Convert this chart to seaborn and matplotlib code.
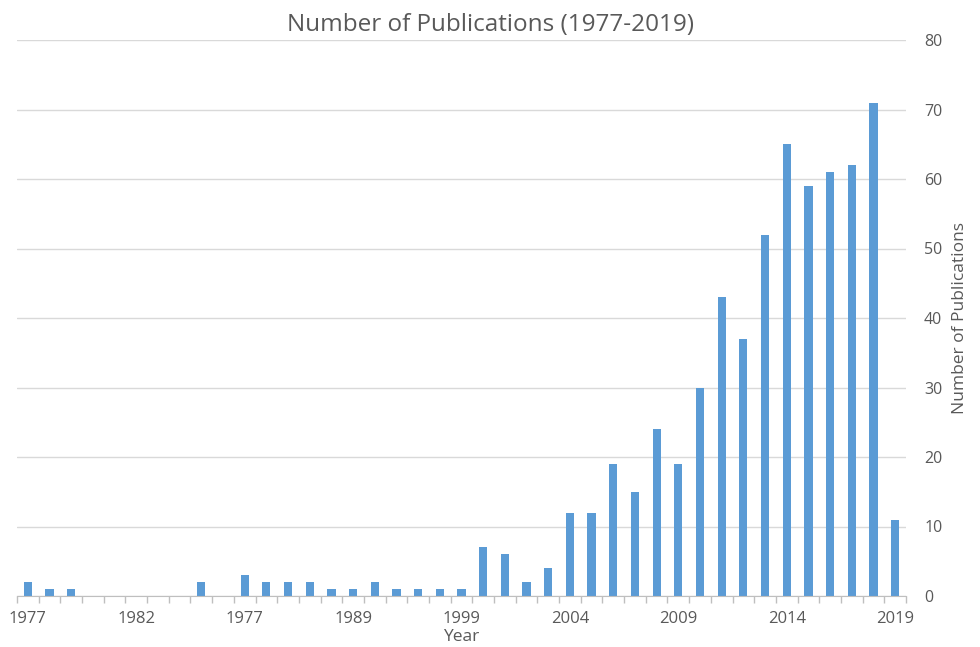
import numpy as np
import pandas as pd
import matplotlib
matplotlib.use("Agg")
import matplotlib.pyplot as plt
import seaborn as sns
from matplotlib.ticker import FixedLocator

# datos (41 categorias)
valores = [2, 1, 1, 0, 0, 0, 0, 0, 2, 0,
           3, 2, 2, 2, 1, 1, 2, 1, 1, 1,
           1, 7, 6, 2, 4, 12, 12, 19, 15, 24,
           19, 30, 43, 37, 52, 65, 59, 61, 62, 71,
           11]
posiciones_etiquetas = [0, 5, 10, 15, 20, 25, 30, 35, 40]
etiquetas = ["1977", "1982", "1977", "1989", "1999", "2004", "2009", "2014", "2019"]
ticks_y = [0, 10, 20, 30, 40, 50, 60, 70, 80]

df = pd.DataFrame({"idx": list(range(len(valores))), "valor": valores})

sns.set_style("white")
plt.rcParams["font.family"] = ["Open Sans", "DejaVu Sans"]

gris = "#595959"
fig = plt.figure(figsize=(9.8, 6.47), dpi=100)
ax = fig.add_axes([17 / 980, 1 - 596 / 647, (906 - 17) / 980, (596 - 40) / 647])

sns.barplot(data=df, x="idx", y="valor", color="#5B9BD5", width=0.38,
            saturation=1, linewidth=0, ax=ax, zorder=3)

ax.set_xlim(-0.5, len(valores) - 0.5)
ax.set_ylim(0, 80)

# eje y a la derecha
ax.yaxis.tick_right()
ax.yaxis.set_label_position("right")
ax.set_yticks(ticks_y)
ax.tick_params(axis="y", length=0, labelsize=11.5, labelcolor=gris, pad=13)
ax.grid(axis="y", color="#D9D9D9", linewidth=1, zorder=0)
ax.set_ylabel("Number of Publications", fontsize=12.5, color=gris, labelpad=7)

# eje x
ax.set_xticks(posiciones_etiquetas)
ax.set_xticklabels(etiquetas)
ax.tick_params(axis="x", which="both", bottom=True)
ax.tick_params(axis="x", which="major", length=0, labelsize=12, labelcolor=gris, pad=11)
ax.xaxis.set_minor_locator(FixedLocator(np.arange(-0.5, len(valores), 1)))
ax.tick_params(axis="x", which="minor", length=5, color="#BFBFBF", width=1)
ax.set_xlabel("Year", fontsize=12.5, color=gris, labelpad=1)

for lado in ["top", "left", "right"]:
    ax.spines[lado].set_visible(False)
ax.spines["bottom"].set_color("#BFBFBF")
ax.spines["bottom"].set_zorder(4)

fig.suptitle("Number of Publications (1977-2019)", fontsize=17.5, color=gris, y=0.98)

plt.savefig("out.png", dpi=100)
